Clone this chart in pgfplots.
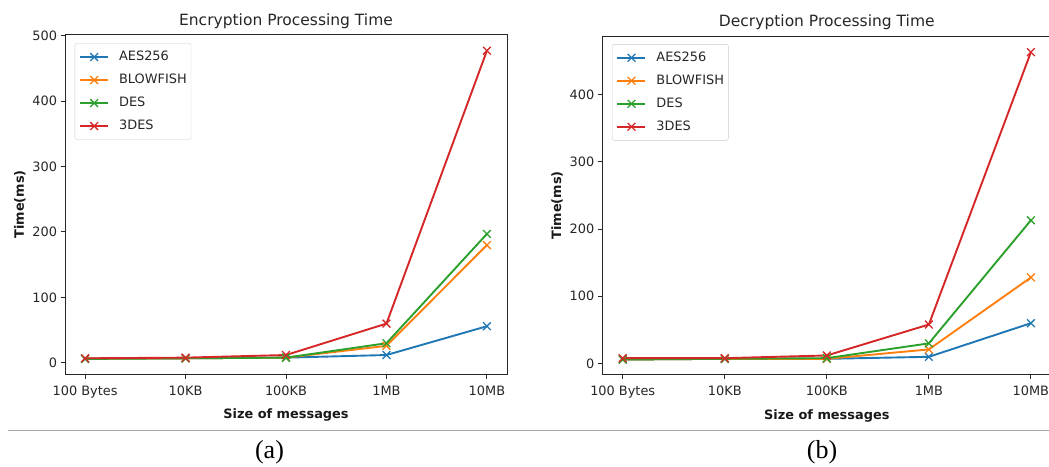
\documentclass[border=0pt]{standalone}
\usepackage{fontspec}
\setmainfont{Liberation Serif}
\newfontfamily\dv{DejaVu Sans}
\usepackage{pgfplots}
\pgfplotsset{compat=1.18}

\definecolor{mblue}{HTML}{1F77B4}
\definecolor{morange}{HTML}{FF7F0E}
\definecolor{mgreen}{HTML}{2CA02C}
\definecolor{mred}{HTML}{D62728}

\pgfplotsset{
  mpl/.style={
    scale only axis,
    xmin=-0.2, xmax=4.2,
    xtick={0,1,2,3,4},
    xticklabels={100 Bytes,10KB,100KB,1MB,10MB},
    tick pos=left, tick align=outside, major tick length=4.5pt,
    axis line style={black!85, line width=1pt},
    every tick/.style={black!85, line width=1pt},
    tick label style={font=\dv\fontsize{12.9}{15}\selectfont, text=black!85},
    xticklabel style={yshift=-4pt},
    /pgf/number format/assume math mode=true,
    label style={font=\dv\bfseries\fontsize{12.9}{15}\selectfont, text=black!90},
    xlabel style={yshift=-4pt},
    title style={font=\dv\fontsize{15.5}{18}\selectfont, text=black!85, yshift=-3pt},
    xlabel={Size of messages}, ylabel={Time(ms)},
    every axis plot/.append style={line width=1.9pt, mark=x, mark size=5.5pt,
      mark options={line width=1.3pt, solid}},
    legend image code/.code={
      \draw[mark repeat=2,mark phase=2,#1] plot coordinates {(0pt,0pt)(14pt,0pt)(28pt,0pt)};},
    legend cell align=left,
    legend style={anchor=north west, draw=black!20, rounded corners=2pt,
      fill=white, fill opacity=0.8, text opacity=1,
      font=\dv\fontsize{12.9}{15}\selectfont, text=black!85,
      inner xsep=4.3pt, inner ysep=7.5pt, row sep=11pt, xshift=3pt,
      nodes={inner sep=0pt, text height=9.3pt, text depth=2.7pt},
      /tikz/every odd column/.append style={column sep=10pt}},
  }
}

\begin{document}
\begin{tikzpicture}
% (a) encryption
\begin{axis}[mpl, at={(65pt,92pt)}, anchor=south west,
    width=442pt, height=339pt,
    ymin=-17, ymax=501, ytick={0,100,200,300,400,500},
    title={Encryption Processing Time},
    legend style={at={(0.0152,0.9755)}}]
\addplot[mblue] coordinates {(0,6.5) (1,7) (2,8) (3,12) (4,56)};
\addplot[morange] coordinates {(0,6.5) (1,7) (2,8) (3,26) (4,180)};
\addplot[mgreen] coordinates {(0,6) (1,7) (2,8) (3,30) (4,197)};
\addplot[mred] coordinates {(0,7) (1,8) (2,12) (3,60) (4,477)};
\legend{AES256,BLOWFISH,DES,3DES}
\end{axis}
% (b) decryption
\begin{axis}[mpl, at={(602.3pt,91.7pt)}, anchor=south west,
    width=449pt, height=337.6pt,
    ymin=-16, ymax=486, ytick={0,100,200,300,400},
    title={Decryption Processing Time},
    legend style={at={(0.015,0.978)}}]
\addplot[mblue] coordinates {(0,6) (1,7) (2,7) (3,10) (4,60)};
\addplot[morange] coordinates {(0,6) (1,7) (2,7) (3,21) (4,128)};
\addplot[mgreen] coordinates {(0,6) (1,7) (2,8) (3,30) (4,213)};
\addplot[mred] coordinates {(0,8) (1,8) (2,12) (3,58) (4,463)};
\legend{AES256,BLOWFISH,DES,3DES}
\end{axis}
\draw[black!35, line width=1pt] (8pt,36pt) -- (1049pt,36pt);
\node[font=\fontsize{26}{30}\selectfont] at (269.5pt,14pt) {(a)};
\node[font=\fontsize{26}{30}\selectfont] at (822pt,14pt) {(b)};
\pgfresetboundingbox
\path (0,0) rectangle (1049pt,466pt);
\end{tikzpicture}
\end{document}
